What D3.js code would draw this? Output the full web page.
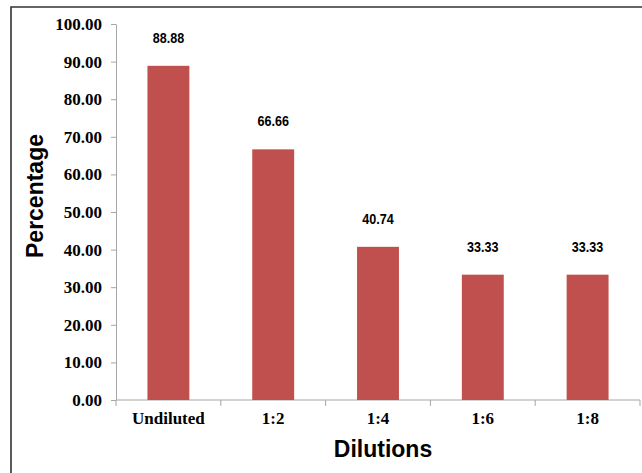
<!DOCTYPE html>
<html><head><meta charset="utf-8">
<script src="https://cdn.jsdelivr.net/npm/d3@7"></script>
<style>body{margin:0;background:#fff}svg{display:block}</style>
</head><body>
<svg id="c" width="642" height="473"></svg>
<script>
const categories = ["Undiluted","1:2","1:4","1:6","1:8"];
const values = [88.88, 66.66, 40.74, 33.33, 33.33];
const labels = ["88.88","66.66","40.74","33.33","33.33"];
const yTicks = [0,10,20,30,40,50,60,70,80,90,100];

const svg = d3.select("#c");
// frame
svg.append("path").attr("d","M11,473 L11,7 L642,7").attr("fill","none").attr("stroke","#333").attr("stroke-width",1.6);

const x = d3.scaleBand().domain(categories).range([116,640]).paddingInner(0.6).paddingOuter(0.3);
const y = d3.scaleLinear().domain([0,100]).range([400,24]);

const serif = "'Liberation Serif','Times New Roman',serif";
const sans = "'Liberation Sans',Arial,sans-serif";

// y axis
const ya = svg.append("g").attr("transform","translate(116,0)")
  .call(d3.axisLeft(y).tickValues(yTicks).tickFormat(d3.format(".2f")).tickSize(5).tickSizeOuter(0).tickPadding(9));
ya.select(".domain").attr("stroke","#a6a6a6");
ya.selectAll(".tick line").attr("stroke","#a6a6a6");
ya.selectAll("text").attr("font-family",serif).attr("font-weight","bold").attr("font-size",17).attr("fill","#000");

// x axis
const xBound = d3.scaleLinear().domain([0,5]).range([116,640]);
const xa = svg.append("g").attr("transform","translate(0,400)");
xa.append("line").attr("x1",116).attr("x2",640).attr("stroke","#a6a6a6");
xa.selectAll("line.t").data(d3.range(6)).join("line").attr("class","t")
  .attr("x1",d=>xBound(d)).attr("x2",d=>xBound(d)).attr("y1",0).attr("y2",6).attr("stroke","#a6a6a6");
xa.selectAll("text").data(categories).join("text")
  .attr("x",d=>x(d)+x.bandwidth()/2).attr("y",24).attr("text-anchor","middle")
  .attr("font-family",serif).attr("font-weight","bold").attr("font-size",17).text(d=>d);

// bars
svg.selectAll("rect.bar").data(values).join("rect").attr("class","bar")
  .attr("x",(d,i)=>x(categories[i])).attr("width",x.bandwidth())
  .attr("y",d=>y(d)).attr("height",d=>y(0)-y(d)).attr("fill","#C0504D");

// data labels (condensed bold)
svg.selectAll("text.lbl").data(values).join("text").attr("class","lbl")
  .attr("transform",(d,i)=>`translate(${x(categories[i])+x.bandwidth()/2},${y(d)-23}) scale(0.84,1)`)
  .attr("text-anchor","middle").attr("font-family",sans)
  .attr("font-weight","bold").attr("font-size",15).text((d,i)=>labels[i]);

// titles
svg.append("text").attr("transform","translate(43,196) rotate(-90)").attr("text-anchor","middle")
  .attr("font-family",sans).attr("font-weight","bold").attr("font-size",23).text("Percentage");
svg.append("text").attr("x",383).attr("y",457).attr("text-anchor","middle")
  .attr("font-family",sans).attr("font-weight","bold").attr("font-size",23).text("Dilutions");
</script>
</body></html>
